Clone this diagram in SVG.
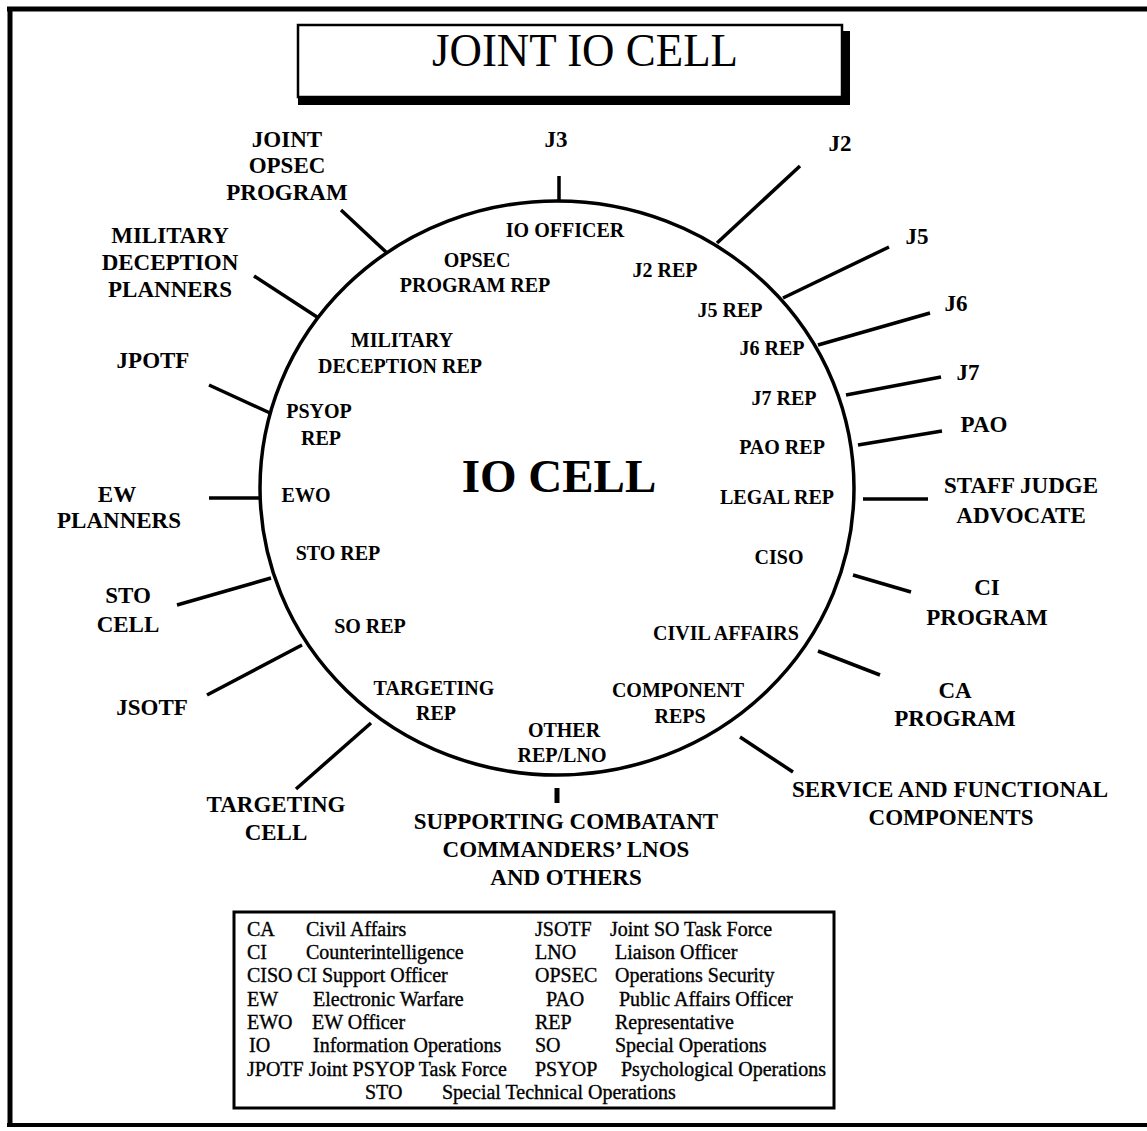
<svg xmlns="http://www.w3.org/2000/svg" width="1147" height="1131" viewBox="0 0 1147 1131">
<style>
text{font-family:"Liberation Serif","Times New Roman",serif;fill:#000}
.o{font-size:23px;font-weight:bold;text-anchor:middle}
.i{font-size:20px;font-weight:bold;text-anchor:middle}
.lg{font-size:20px;stroke:#000;stroke-width:0.35}
.c{stroke:#000;stroke-width:3.5;stroke-linecap:butt;fill:none}
</style>
<rect width="1147" height="1131" fill="#fff"/>
<g id="frame">
<line x1="7" y1="9" x2="1147" y2="9" stroke="#000" stroke-width="5"/>
<line x1="10" y1="7" x2="10" y2="1127" stroke="#000" stroke-width="5"/>
<line x1="7" y1="1125" x2="1147" y2="1125" stroke="#000" stroke-width="4"/>
</g>
<g id="title">
<rect x="298" y="96" width="552" height="9" fill="#000"/>
<rect x="842" y="31" width="8" height="74" fill="#000"/>
<rect x="298" y="25" width="544" height="72" fill="none" stroke="#000" stroke-width="2.5"/>
<text x="432" y="66" font-size="47" textLength="306" lengthAdjust="spacingAndGlyphs">JOINT IO CELL</text>
</g>
<g id="io-cell">
<ellipse cx="557" cy="488" rx="297" ry="287" fill="#fff" stroke="#000" stroke-width="3.5"/>
<text x="559" y="492" font-size="47" font-weight="bold" text-anchor="middle">IO CELL</text>
</g>
<g id="connectors" class="c">
<line x1="559" y1="176" x2="559" y2="200"/>
<line x1="717" y1="243" x2="800" y2="166"/>
<line x1="783" y1="298" x2="889" y2="247"/>
<line x1="818" y1="345" x2="930" y2="313"/>
<line x1="846" y1="395" x2="941" y2="377"/>
<line x1="858" y1="445" x2="942" y2="431"/>
<line x1="863" y1="499" x2="928" y2="499"/>
<line x1="853" y1="575" x2="911" y2="592"/>
<line x1="818" y1="651" x2="880" y2="675"/>
<line x1="740" y1="737" x2="793" y2="772"/>
<line x1="557" y1="788" x2="557" y2="803" stroke-width="5"/>
<line x1="371" y1="723" x2="296" y2="789"/>
<line x1="302" y1="645" x2="207" y2="695"/>
<line x1="271" y1="578" x2="177" y2="605"/>
<line x1="209" y1="498" x2="260" y2="498"/>
<line x1="270" y1="413" x2="209" y2="385"/>
<line x1="317" y1="317" x2="254" y2="276"/>
<line x1="386" y1="252" x2="341" y2="210"/>
</g>
<g id="inner-reps">
<g id="io-officer"><text class="i" x="565" y="237" font-size="21">IO OFFICER</text></g>
<g id="opsec-rep"><text class="i" x="477" y="267">OPSEC</text><text class="i" x="475" y="292">PROGRAM REP</text></g>
<g id="j2-rep"><text class="i" x="665" y="277">J2 REP</text></g>
<g id="j5-rep"><text class="i" x="730" y="317">J5 REP</text></g>
<g id="j6-rep"><text class="i" x="772" y="355">J6 REP</text></g>
<g id="j7-rep"><text class="i" x="784" y="405">J7 REP</text></g>
<g id="pao-rep"><text class="i" x="782" y="454">PAO REP</text></g>
<g id="legal-rep"><text class="i" x="777" y="504">LEGAL REP</text></g>
<g id="ciso"><text class="i" x="779" y="564">CISO</text></g>
<g id="civil-affairs"><text class="i" x="726" y="640">CIVIL AFFAIRS</text></g>
<g id="component-reps"><text class="i" x="678" y="697">COMPONENT</text><text class="i" x="680" y="723">REPS</text></g>
<g id="other-rep"><text class="i" x="564" y="737">OTHER</text><text class="i" x="562" y="762">REP/LNO</text></g>
<g id="targeting-rep"><text class="i" x="434" y="695">TARGETING</text><text class="i" x="436" y="720">REP</text></g>
<g id="so-rep"><text class="i" x="370" y="633">SO REP</text></g>
<g id="sto-rep"><text class="i" x="338" y="560">STO REP</text></g>
<g id="ewo"><text class="i" x="306" y="502">EWO</text></g>
<g id="psyop-rep"><text class="i" x="319" y="418">PSYOP</text><text class="i" x="321" y="445">REP</text></g>
<g id="mildec-rep"><text class="i" x="402" y="347">MILITARY</text><text class="i" x="400" y="373">DECEPTION REP</text></g>
</g>
<g id="outer-nodes">
<g id="joint-opsec"><text class="o" x="287" y="147" font-size="22">JOINT</text><text class="o" x="287" y="173" font-size="22">OPSEC</text><text class="o" x="287" y="200" font-size="22">PROGRAM</text></g>
<g id="j3"><text class="o" x="556" y="147" font-size="28">J3</text></g>
<g id="j2"><text class="o" x="840" y="151" font-size="24">J2</text></g>
<g id="j5"><text class="o" x="917" y="244" font-size="24">J5</text></g>
<g id="j6"><text class="o" x="956" y="311" font-size="24">J6</text></g>
<g id="j7"><text class="o" x="968" y="380" font-size="24">J7</text></g>
<g id="pao"><text class="o" x="984" y="432" font-size="24">PAO</text></g>
<g id="sja"><text class="o" x="1021" y="493">STAFF JUDGE</text><text class="o" x="1021" y="523">ADVOCATE</text></g>
<g id="ci-program"><text class="o" x="987" y="595">CI</text><text class="o" x="987" y="625">PROGRAM</text></g>
<g id="ca-program"><text class="o" x="955" y="698">CA</text><text class="o" x="955" y="726">PROGRAM</text></g>
<g id="service"><text class="o" x="950" y="797">SERVICE AND FUNCTIONAL</text><text class="o" x="951" y="825">COMPONENTS</text></g>
<g id="supporting"><text class="o" x="566" y="829">SUPPORTING COMBATANT</text><text class="o" x="566" y="857">COMMANDERS’ LNOS</text><text class="o" x="566" y="885">AND OTHERS</text></g>
<g id="targeting-cell"><text class="o" x="276" y="812">TARGETING</text><text class="o" x="276" y="840">CELL</text></g>
<g id="jsotf"><text class="o" x="152" y="715">JSOTF</text></g>
<g id="sto-cell"><text class="o" x="128" y="603">STO</text><text class="o" x="128" y="632">CELL</text></g>
<g id="ew-planners"><text class="o" x="117" y="502">EW</text><text class="o" x="119" y="528">PLANNERS</text></g>
<g id="jpotf"><text class="o" x="153" y="368">JPOTF</text></g>
<g id="mildec-planners"><text class="o" x="170" y="243" font-size="21">MILITARY</text><text class="o" x="170" y="270" font-size="21">DECEPTION</text><text class="o" x="170" y="297" font-size="21">PLANNERS</text></g>
</g>
<g id="legend">
<rect x="234" y="912" width="600" height="196" fill="#fff" stroke="#000" stroke-width="3"/>
<text class="lg" x="247" y="936">CA</text><text class="lg" x="306" y="936">Civil Affairs</text>
<text class="lg" x="247" y="959">CI</text><text class="lg" x="306" y="959">Counterintelligence</text>
<text class="lg" x="247" y="982">CISO</text><text class="lg" x="297" y="982">CI Support Officer</text>
<text class="lg" x="247" y="1006">EW</text><text class="lg" x="313" y="1006">Electronic Warfare</text>
<text class="lg" x="247" y="1029">EWO</text><text class="lg" x="312" y="1029">EW Officer</text>
<text class="lg" x="249" y="1052">IO</text><text class="lg" x="313" y="1052">Information Operations</text>
<text class="lg" x="247" y="1076">JPOTF Joint PSYOP Task Force</text>
<text class="lg" x="535" y="936">JSOTF</text><text class="lg" x="610" y="936">Joint SO Task Force</text>
<text class="lg" x="535" y="959">LNO</text><text class="lg" x="615" y="959">Liaison Officer</text>
<text class="lg" x="535" y="982">OPSEC</text><text class="lg" x="615" y="982">Operations Security</text>
<text class="lg" x="546" y="1006">PAO</text><text class="lg" x="619" y="1006">Public Affairs Officer</text>
<text class="lg" x="535" y="1029">REP</text><text class="lg" x="615" y="1029">Representative</text>
<text class="lg" x="535" y="1052">SO</text><text class="lg" x="615" y="1052">Special Operations</text>
<text class="lg" x="535" y="1076">PSYOP</text><text class="lg" x="621" y="1076">Psychological Operations</text>
<text class="lg" x="365" y="1099">STO</text><text class="lg" x="442" y="1099">Special Technical Operations</text>
</g>
</svg>
